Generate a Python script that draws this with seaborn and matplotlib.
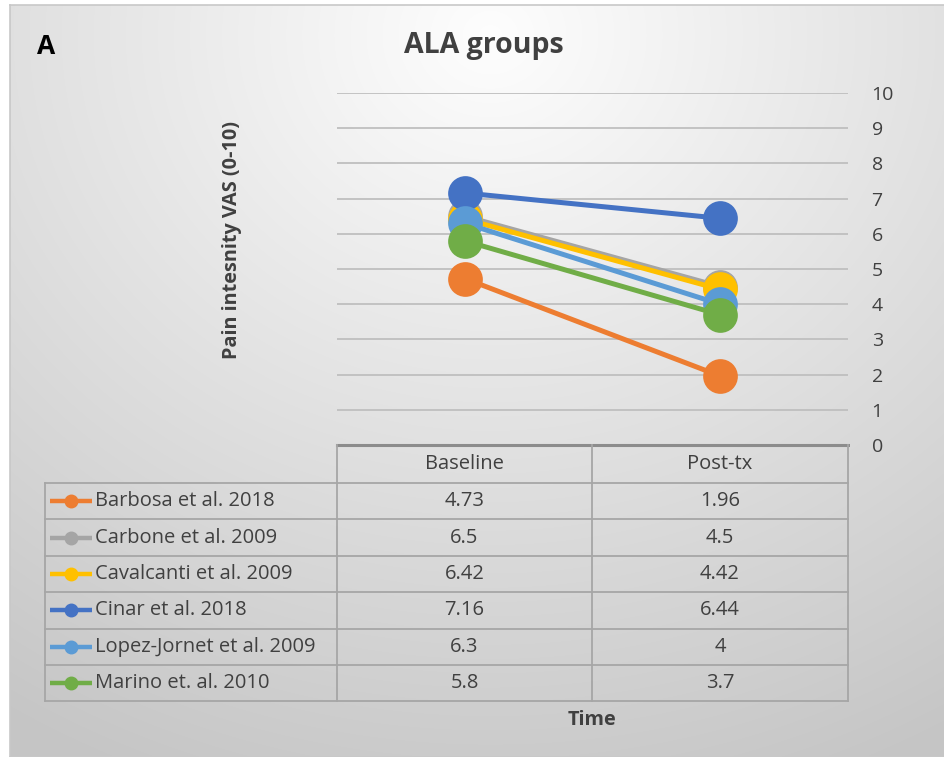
import numpy as np
import pandas as pd
import matplotlib
matplotlib.use("Agg")
import matplotlib.pyplot as plt
import seaborn as sns

# =========================
# DATA
# =========================
STUDIES = ["Barbosa et al. 2018", "Carbone et al. 2009", "Cavalcanti et al. 2009",
           "Cinar et al. 2018", "Lopez-Jornet et al. 2009", "Marino et. al. 2010"]
TIMES = ["Baseline", "Post-tx"]
BASELINE = [4.73, 6.5, 6.42, 7.16, 6.3, 5.8]
POST_TX = [1.96, 4.5, 4.42, 6.44, 4, 3.7]
BASELINE_TXT = ["4.73", "6.5", "6.42", "7.16", "6.3", "5.8"]
POST_TXT = ["1.96", "4.5", "4.42", "6.44", "4", "3.7"]
YTICKS = list(range(0, 11))

COLORS = ["#ED7D31", "#A5A5A5", "#FFC000", "#4472C4", "#5B9BD5", "#70AD47"]
TXT = "#404040"
GRID = "#BFBFBF"

df = pd.DataFrame({
    "study": np.repeat(STUDIES, 2),
    "time": TIMES * len(STUDIES),
    "vas": [v for pair in zip(BASELINE, POST_TX) for v in pair],
})

W, H = 945, 757
plt.rcParams["font.family"] = ["Open Sans", "DejaVu Sans"]
fig = plt.figure(figsize=(W / 100, H / 100), dpi=100)


def fx(px):
    return px / W


def fy(py):
    return 1 - py / H


# background with soft radial gradient
bg = fig.add_axes([fx(10), fy(757), fx(935), (757 - 5) / H])
yy, xx = np.mgrid[0:752, 0:935]
r = np.sqrt(((xx - 480) / 900.0) ** 2 + ((yy - 30) / 800.0) ** 2)
vals = 0.995 - 0.22 * np.clip(r, 0, 1)
bg.imshow(np.dstack([vals] * 3), aspect="auto", extent=[0, 1, 0, 1], origin="upper")
bg.set_xticks([])
bg.set_yticks([])
for s in bg.spines.values():
    s.set_color("#C8C8C8")
    s.set_linewidth(1.2)

# =========================
# LINE CHART
# =========================
ax = fig.add_axes([fx(337), fy(445), fx(848 - 337), (445 - 93) / H])
ax.patch.set_alpha(0)
ax.set_ylim(0, 10)
for y in YTICKS[1:]:
    ax.axhline(y, color=GRID, lw=1.3, zorder=0)

sns.lineplot(data=df, x="time", y="vas", hue="study", hue_order=STUDIES,
             palette=COLORS, marker="o", markersize=25, markeredgewidth=0,
             linewidth=3.6, legend=False, ax=ax, sort=False)
ax.set_xlim(-0.5, 1.5)
ax.set_xticks([])
ax.set_xlabel("")
ax.set_ylabel("")
ax.yaxis.tick_right()
ax.set_yticks(YTICKS)
ax.tick_params(axis="y", length=0, pad=17, labelsize=14, labelcolor=TXT)
for s in ax.spines.values():
    s.set_visible(False)

# =========================
# DATA TABLE
# =========================
tb = fig.add_axes([fx(40), fy(705), fx(850 - 40), (705 - 440) / H])
tb.set_xlim(40, 850)
tb.set_ylim(705, 440)
tb.axis("off")
tb.patch.set_alpha(0)

col_x = [45, 337, 592, 848]
row_y = [445, 483] + [483 + 36.4 * (i + 1) for i in range(6)]
lc = "#A6A6A6"
tb.plot([337, 848], [445, 445], color="#8C8C8C", lw=2.2)
for y in row_y[1:]:
    tb.plot([45, 848], [y, y], color=lc, lw=1.3)
tb.plot([45, 45], [row_y[1], row_y[-1]], color=lc, lw=1.3)
for x in col_x[1:]:
    tb.plot([x, x], [445, row_y[-1]], color=lc, lw=1.3)

FS = 14.5
tb.text(464.5, 464, TIMES[0], ha="center", va="center", fontsize=FS, color=TXT)
tb.text(720, 464, TIMES[1], ha="center", va="center", fontsize=FS, color=TXT)
for i, name in enumerate(STUDIES):
    yc = (row_y[i + 1] + row_y[i + 2]) / 2
    tb.plot([50, 92], [yc, yc], color=COLORS[i], lw=3.2, solid_capstyle="butt")
    tb.plot([71], [yc], "o", color=COLORS[i], ms=9)
    tb.text(95, yc, name, ha="left", va="center", fontsize=FS, color=TXT)
    tb.text(464.5, yc, BASELINE_TXT[i], ha="center", va="center", fontsize=FS, color=TXT)
    tb.text(720, yc, POST_TXT[i], ha="center", va="center", fontsize=FS, color=TXT)

# =========================
# TEXT
# =========================
fig.text(fx(484), fy(46), "ALA groups", ha="center", va="center",
         fontsize=20.5, fontweight="bold", color=TXT)
fig.text(fx(37), fy(46), "A", ha="left", va="center",
         fontsize=19, fontweight="bold", color="black")
fig.text(fx(232), fy(240), "Pain intesnity VAS (0-10)", ha="center", va="center",
         rotation=90, fontsize=14.3, fontweight="bold", color=TXT)
fig.text(fx(592), fy(720), "Time", ha="center", va="center",
         fontsize=14.3, fontweight="bold", color=TXT)

fig.savefig("out.png", dpi=100)
